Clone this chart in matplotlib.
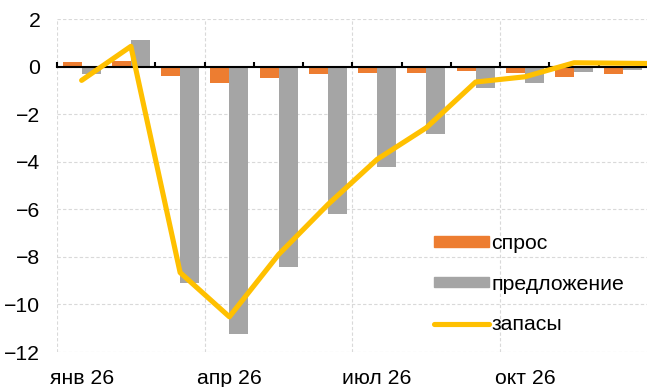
import numpy as np
import matplotlib.pyplot as plt
from matplotlib.patches import Patch
from matplotlib.lines import Line2D

plt.rcParams['font.family'] = ['Liberation Sans', 'DejaVu Sans']

# monthly categories (only every 3rd is labelled)
months = ['янв 26', 'фев 26', 'мар 26', 'апр 26', 'май 26', 'июн 26',
          'июл 26', 'авг 26', 'сен 26', 'окт 26', 'ноя 26', 'дек 26']

# contributions
spros = [0.2, 0.24, -0.4, -0.7, -0.47, -0.32, -0.28, -0.27, -0.2, -0.28, -0.42, -0.32]
predlozhenie = [-0.33, 1.1, -9.08, -11.25, -8.42, -6.21, -4.21, -2.82, -0.88, -0.7, -0.22, -0.15]
# the line runs on past the right edge of the crop
zapasy = [-0.58, 0.85, -8.66, -10.52, -7.9, -5.8, -3.9, -2.57, -0.65, -0.43, 0.16, 0.14, 0.12]

c_spros = '#ED7D31'
c_pred = '#A5A5A5'
c_zap = '#FFC000'
fs = 15.3

fig = plt.figure(figsize=(6.47, 3.87), dpi=100)
ax = fig.add_axes([57 / 647, 35 / 387, 591 / 647, 333 / 387])

x = np.arange(len(months)) + 0.5
w = 0.385
ax.bar(x - w / 2, spros, w, color=c_spros, zorder=2)
ax.bar(x + w / 2, predlozhenie, w, color=c_pred, zorder=2)
ax.plot(np.arange(len(zapasy)) + 0.5, zapasy, color=c_zap, lw=3.7,
        solid_joinstyle='round', solid_capstyle='round', zorder=4)

ax.set_xlim(0, len(months))
ax.set_ylim(-12, 2)
ax.set_yticks(np.arange(-12, 3, 2))
ax.set_axisbelow(True)

# grid: dashed light grey, vertical every 3 months
ax.yaxis.grid(True, ls=(0, (3, 2)), color='#D9D9D9', lw=0.8)
for b in range(0, len(months), 3):
    ax.axvline(b, ls=(0, (3, 2)), color='#D9D9D9', lw=0.8, zorder=0.5)

for s in ['left', 'right', 'top']:
    ax.spines[s].set_visible(False)
ax.spines['bottom'].set_position(('data', 0))
ax.spines['bottom'].set_linewidth(1.5)
ax.spines['bottom'].set_zorder(3)
ax.set_xticks(np.arange(len(months) + 1))
ax.set_xticklabels([])
ax.tick_params(axis='x', direction='in', length=3.5, width=1.5)
ax.tick_params(axis='y', length=0, pad=12, labelsize=fs)

# month labels along the bottom of the plot
sec = ax.secondary_xaxis(0)
sec.set_xticks(x[::3], months[::3])
sec.tick_params(length=0, pad=12.5, labelsize=fs)
sec.spines['bottom'].set_visible(False)

handles = [Patch(color=c_spros, label='спрос'),
           Patch(color=c_pred, label='предложение'),
           Line2D([], [], color=c_zap, lw=3.7, solid_capstyle='round', label='запасы')]
ax.legend(handles=handles, loc='upper left', bbox_to_anchor=(434 / 647, 1 - 234 / 387),
          bbox_transform=fig.transFigure, frameon=False, fontsize=fs,
          handlelength=2.6, handleheight=0.4, handletextpad=0.1,
          labelspacing=1.02, borderpad=0, borderaxespad=0)

fig.savefig('out.png', dpi=100)
